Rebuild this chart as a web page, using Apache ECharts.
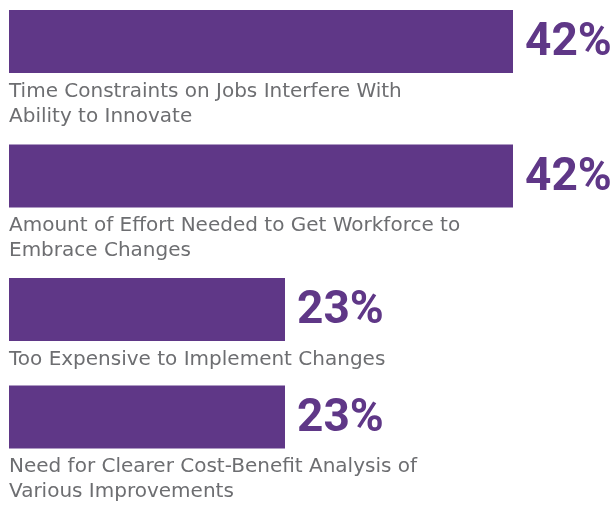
<!DOCTYPE html>
<html>
<head>
<meta charset="utf-8">
<script src="https://cdn.jsdelivr.net/npm/echarts@6/dist/echarts.min.js"></script>
<style>
  html, body { margin: 0; padding: 0; background: #fff; }
  #chart { width: 613px; height: 510px; }
</style>
</head>
<body>
<div id="chart"></div>
<script>
// data
const categories = [
  'Time Constraints on Jobs Interfere With\nAbility to Innovate',
  'Amount of Effort Needed to Get Workforce to\nEmbrace Changes',
  'Too Expensive to Implement Changes',
  'Need for Clearer Cost-Benefit Analysis of\nVarious Improvements'
]
const values = [42, 42, 23, 23]

// layout: one grid per bar, since rows differ in height (1 or 2 label lines)
const barTops = [10, 144.5, 278, 385.5]
const barHeight = 63
const purple = '#5f3787'
const grey = '#6d6e71'

const chart = echarts.init(document.getElementById('chart'))

const grid = []
const xAxis = []
const yAxis = []
const series = []
categories.forEach(function (name, i) {
  grid.push({ left: 9, width: 600, top: barTops[i], height: barHeight })
  xAxis.push({ type: 'value', gridIndex: i, min: 0, max: 50, show: false })
  yAxis.push({ type: 'category', gridIndex: i, data: [name], show: false })
  // the bar with its percent label
  series.push({
    type: 'bar',
    xAxisIndex: i,
    yAxisIndex: i,
    barWidth: barHeight,
    data: [values[i]],
    itemStyle: { color: purple },
    silent: true,
    label: {
      show: true,
      position: 'right',
      distance: 12,
      offset: [0, 2],
      formatter: '{c}%',
      color: purple,
      fontFamily: 'Roboto',
      fontWeight: 'bold',
      fontSize: 46
    }
  })
  // invisible twin bar carrying the category text below
  series.push({
    type: 'bar',
    xAxisIndex: i,
    yAxisIndex: i,
    barWidth: barHeight,
    barGap: '-100%',
    data: [values[i]],
    itemStyle: { color: 'rgba(0,0,0,0)' },
    silent: true,
    label: {
      show: true,
      position: [0, '100%'],
      offset: [0, 6],
      align: 'left',
      verticalAlign: 'top',
      formatter: '{b}',
      color: grey,
      fontFamily: 'DejaVu Sans',
      fontSize: 20,
      lineHeight: 25
    }
  })
})

chart.setOption({
  animation: false,
  grid: grid,
  xAxis: xAxis,
  yAxis: yAxis,
  series: series
})
</script>
</body>
</html>
